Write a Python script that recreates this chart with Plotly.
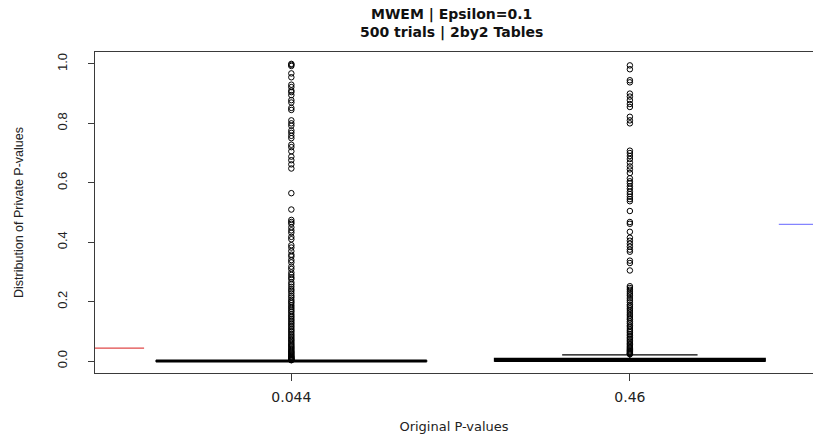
import plotly.graph_objects as go

# Groups: original p-values of the 2x2 tables
categories = ["0.044", "0.46"]
orig_pvalues = [0.044, 0.46]
positions = [1, 2]

# Box summaries of the private p-values (500 trials each)
q1 = [0.0, 0.0]
median = [0.0, 0.002]
q3 = [0.001, 0.009]
lower_fence = [0.0, 0.0]
upper_fence = [0.002, 0.021]

# Outlying private p-values per group
outliers_044 = [
    1.0, 0.997, 0.993, 0.968, 0.955, 0.93, 0.922, 0.91, 0.905, 0.895, 0.878, 0.87,
    0.852, 0.845, 0.81, 0.8, 0.792, 0.776, 0.768, 0.758, 0.75, 0.728, 0.72, 0.706,
    0.688, 0.676, 0.662, 0.648, 0.565, 0.51,
    0.475, 0.468, 0.462, 0.45, 0.44, 0.432, 0.418, 0.41, 0.39, 0.382, 0.37, 0.358,
    0.352, 0.34, 0.332, 0.318, 0.31, 0.298, 0.29, 0.282, 0.276, 0.265, 0.258, 0.25,
    0.242, 0.236, 0.228, 0.22, 0.214, 0.206, 0.2, 0.195,
    0.188, 0.182, 0.176, 0.17, 0.165, 0.158, 0.152, 0.147, 0.141, 0.136, 0.13, 0.125,
    0.119, 0.114, 0.108, 0.103, 0.098, 0.092, 0.087, 0.082, 0.077, 0.072, 0.068, 0.063,
    0.058, 0.054, 0.05, 0.046, 0.042, 0.038, 0.034, 0.031, 0.028, 0.025, 0.022, 0.019,
    0.016, 0.014, 0.012, 0.01, 0.008, 0.006, 0.005, 0.004, 0.003,
]
outliers_046 = [
    0.995, 0.982, 0.945, 0.938, 0.9, 0.89, 0.878, 0.865, 0.855, 0.822, 0.81, 0.8,
    0.708, 0.7, 0.69, 0.68, 0.668, 0.655, 0.645, 0.633, 0.615, 0.605, 0.598, 0.588,
    0.58, 0.57, 0.562, 0.553, 0.545, 0.538, 0.505, 0.468, 0.462, 0.435, 0.415, 0.405,
    0.395, 0.385, 0.375, 0.368, 0.338, 0.33, 0.305,
    0.252, 0.246, 0.24, 0.233, 0.226, 0.22, 0.212, 0.205, 0.198, 0.19, 0.185, 0.178,
    0.172, 0.165, 0.158, 0.152, 0.145, 0.14, 0.133, 0.127, 0.12, 0.115, 0.108, 0.102,
    0.097, 0.091, 0.086, 0.08, 0.075, 0.07, 0.065, 0.06, 0.056, 0.051, 0.047, 0.043,
    0.039, 0.036, 0.033, 0.03, 0.027, 0.025, 0.023,
]
outliers = [outliers_044, outliers_046]

y_ticks = [0.0, 0.2, 0.4, 0.6, 0.8, 1.0]
y_tick_text = ["0.0", "0.2", "0.4", "0.6", "0.8", "1.0"]

# Reference segments marking each original p-value (x extents in axis units)
ref_x0 = [0.42, 2.44]
ref_x1 = [0.565, 2.6]
ref_colors = ["#e04848", "#8484ff"]

BOX_W = 0.8
FONT = "Liberation Sans, Arial, sans-serif"
WIDE = "DejaVu Sans, sans-serif"
AXIS_COL = "#3a3a3a"

fig = go.Figure()

fig.add_trace(go.Box(
    x=positions, q1=q1, median=median, q3=q3,
    lowerfence=lower_fence, upperfence=upper_fence,
    width=BOX_W, whiskerwidth=0.5, boxpoints=False,
    fillcolor="white", line=dict(color="black", width=1.2),
    showlegend=False, hoverinfo="skip",
))

# Thick median bars
mx, my = [], []
for p, m in zip(positions, median):
    mx += [p - BOX_W / 2, p + BOX_W / 2, None]
    my += [m, m, None]
fig.add_trace(go.Scatter(x=mx, y=my, mode="lines",
                         line=dict(color="black", width=3),
                         showlegend=False, hoverinfo="skip"))

# Outlier points
for p, vals in zip(positions, outliers):
    fig.add_trace(go.Scatter(
        x=[p] * len(vals), y=vals, mode="markers",
        marker=dict(symbol="circle-open", size=5.5, color="black",
                    line=dict(width=1, color="black")),
        showlegend=False, hoverinfo="skip",
    ))

# Original p-value segments
for x0, x1, pv, col in zip(ref_x0, ref_x1, orig_pvalues, ref_colors):
    fig.add_trace(go.Scatter(x=[x0, x1], y=[pv, pv], mode="lines",
                             line=dict(color=col, width=1.3),
                             showlegend=False, hoverinfo="skip"))

fig.update_layout(
    width=813, height=436,
    margin=dict(l=95, r=0, t=52, b=63),
    paper_bgcolor="white", plot_bgcolor="white",
    font=dict(family=FONT, color="#111", size=12),
    annotations=[dict(
        text="<b>MWEM | Epsilon=0.1</b><br><b>500 trials | 2by2 Tables</b>",
        xref="paper", yref="paper", x=0.496, y=1, xanchor="center", yanchor="bottom",
        yshift=9, showarrow=False, align="center",
        font=dict(size=14, family=WIDE, color="#111"),
    )],
)

fig.update_xaxes(
    range=[0.42, 2.541], tickmode="array", tickvals=positions, ticktext=categories,
    showgrid=False, zeroline=False,
    showline=True, mirror=True, linecolor=AXIS_COL, linewidth=1,
    ticks="outside", ticklen=7, tickcolor=AXIS_COL, ticklabelstandoff=4,
    tickfont=dict(size=14, family=WIDE, color="#222"),
    title=dict(text="Original P-values", font=dict(size=13, family=WIDE, color="#222"),
               standoff=18),
)
fig.update_yaxes(
    range=[-0.04, 1.04], tickmode="array", tickvals=y_ticks, ticktext=y_tick_text,
    showgrid=False, zeroline=False,
    showline=True, linecolor=AXIS_COL, linewidth=1,
    ticks="outside", ticklen=6, tickcolor=AXIS_COL, tickangle=-90,
    ticklabelstandoff=16,
    tickfont=dict(size=13, family=FONT, color="#222"),
    title=dict(text="Distribution of Private P-values",
               font=dict(size=12.5, family=FONT, color="#222"), standoff=28),
)

fig.write_html("out.html")
